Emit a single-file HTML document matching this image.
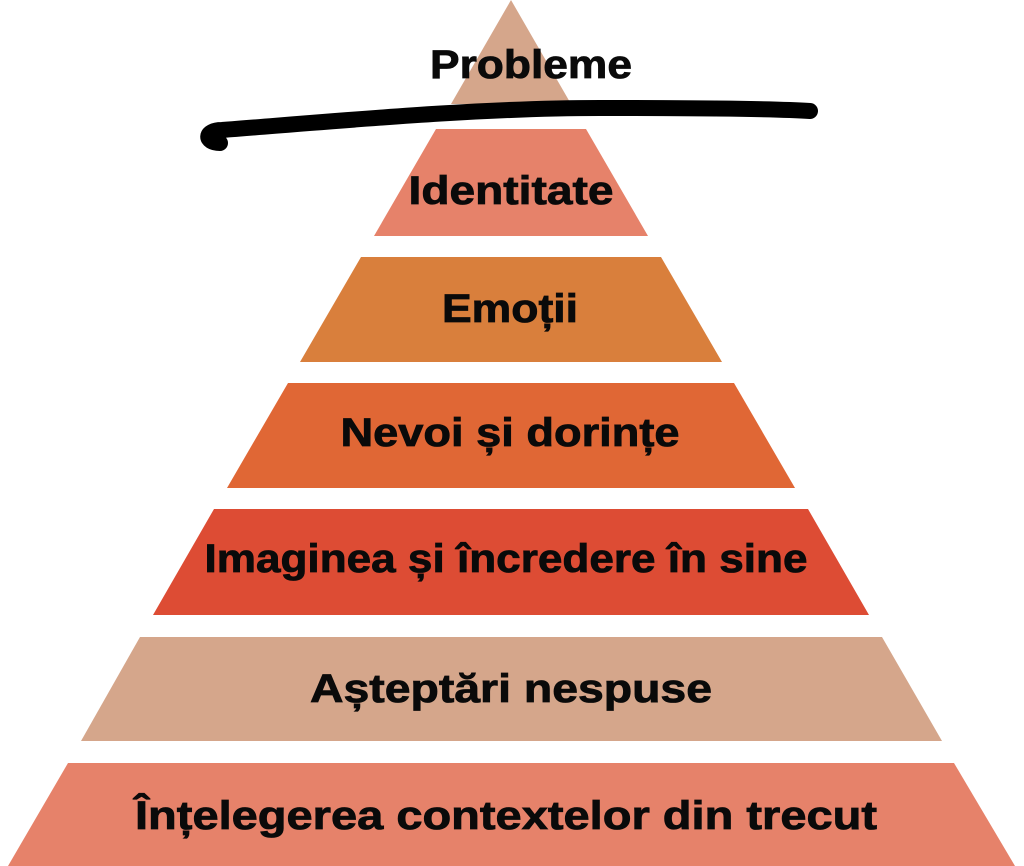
<!DOCTYPE html>
<html><head><meta charset="utf-8"><style>
html,body{margin:0;padding:0;background:#fff;}
svg{display:block;}
text{font-family:"Liberation Sans",sans-serif;font-weight:bold;font-size:40px;fill:#0a0a0a;text-anchor:middle;stroke:#0a0a0a;stroke-width:0.8px;}
</style></head><body>
<svg width="1024" height="866" viewBox="0 0 1024 866">
<polygon points="511,0 571,104 451,104" fill="#d5a68b"/>
<polygon points="436,129 586,129 648,236 374,236" fill="#e6826a"/>
<polygon points="361,257 661,257 722,362 300,362" fill="#d97f3c"/>
<polygon points="288,383 734,383 795,488 227,488" fill="#e06735"/>
<polygon points="214,509 808,509 869,615 153,615" fill="#dd4c34"/>
<polygon points="140,637 882,637 942,741 81,741" fill="#d5a68b"/>
<polygon points="68,763 954,763 1015,866 8,866" fill="#e6826a"/>
<path d="M220,143 C204,143 204,130 222,130 C350,120 480,108 600,108 C700,108 780,109 810,111" stroke="#000" stroke-width="16" fill="none" stroke-linecap="round"/>
<text x="531" y="78" textLength="202" lengthAdjust="spacingAndGlyphs">Probleme</text>
<text x="511" y="204" textLength="205" lengthAdjust="spacingAndGlyphs">Identitate</text>
<text x="510" y="322" textLength="136" lengthAdjust="spacingAndGlyphs">Emoții</text>
<text x="510" y="446" textLength="339" lengthAdjust="spacingAndGlyphs">Nevoi și dorințe</text>
<text x="506" y="572" textLength="603" lengthAdjust="spacingAndGlyphs">Imaginea și încredere în sine</text>
<text x="511" y="702" textLength="402" lengthAdjust="spacingAndGlyphs">Așteptări nespuse</text>
<text x="506" y="829" textLength="742" lengthAdjust="spacingAndGlyphs">Înțelegerea contextelor din trecut</text>
</svg>
</body></html>
